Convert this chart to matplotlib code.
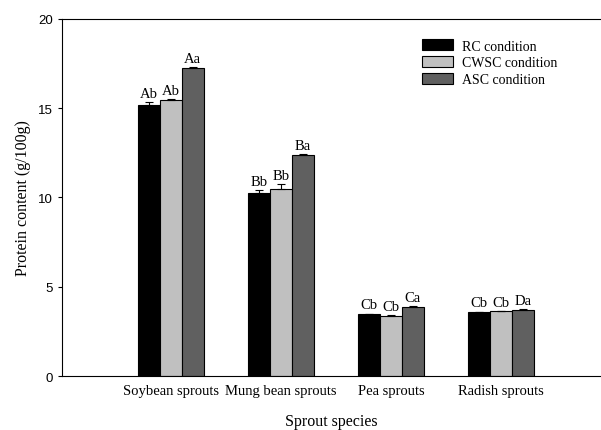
import numpy as np
import matplotlib.pyplot as plt

species = ['Soybean sprouts', 'Mung bean sprouts', 'Pea sprouts', 'Radish sprouts']
conditions = ['RC condition', 'CWSC condition', 'ASC condition']
rc = [15.2, 10.25, 3.45, 3.58]
cwsc = [15.45, 10.5, 3.35, 3.62]
asc = [17.25, 12.35, 3.88, 3.72]
rc_err = [0.15, 0.18, 0.05, 0.03]
cwsc_err = [0.08, 0.25, 0.05, 0.03]
asc_err = [0.04, 0.06, 0.03, 0.03]
rc_lbl = ['Ab', 'Bb', 'Cb', 'Cb']
cwsc_lbl = ['Ab', 'Bb', 'Cb', 'Cb']
asc_lbl = ['Aa', 'Ba', 'Ca', 'Da']

serif = 'Liberation Serif'
fig = plt.figure(figsize=(6.01, 4.31), dpi=100)
ax = fig.add_axes([0.103, 0.125, 0.897, 0.829])

x = np.arange(len(species))
w = 0.2
colors = ['#000000', '#c0c0c0', '#606060']
series = [(rc, rc_err, rc_lbl), (cwsc, cwsc_err, cwsc_lbl), (asc, asc_err, asc_lbl)]
for i, (vals, errs, lbls) in enumerate(series):
    pos = x + (i - 1) * w
    ax.bar(pos, vals, w, color=colors[i], edgecolor='black', linewidth=0.8,
           label=conditions[i], zorder=2)
    ax.errorbar(pos, vals, yerr=[np.zeros(len(errs)), errs], fmt='none',
                ecolor='black', elinewidth=0.8, capsize=3, capthick=0.8, zorder=3)
    for p, v, e, t in zip(pos, vals, errs, lbls):
        ax.text(p, v + e + 0.12, t, ha='center', va='bottom',
                family=serif, fontsize=10.5)

ax.set_xlim(-0.99, 3.91)
ax.set_ylim(0, 20)
ax.set_yticks([0, 5, 10, 15, 20])
ax.set_xticks(x)
ax.set_xticklabels(species, family=serif, fontsize=10.5)
ax.tick_params(axis='x', length=0, pad=6)
ax.tick_params(axis='y', direction='out', length=3, width=0.8, labelsize=9.5)
for lab in ax.get_yticklabels():
    lab.set_family('Liberation Sans')
ax.spines['right'].set_visible(False)
for s in ['left', 'bottom', 'top']:
    ax.spines[s].set_linewidth(0.8)

ax.set_xlabel('Sprout species', family=serif, fontsize=11.5, labelpad=11)
ax.set_ylabel('Protein content (g/100g)', family=serif, fontsize=11.5, labelpad=5)

ax.legend(loc='upper left', bbox_to_anchor=(0.645, 0.978), frameon=False,
          prop={'family': serif, 'size': 10}, handlelength=2.2, handleheight=0.85,
          labelspacing=0.25, handletextpad=0.7)

plt.savefig('out.png', dpi=100)
